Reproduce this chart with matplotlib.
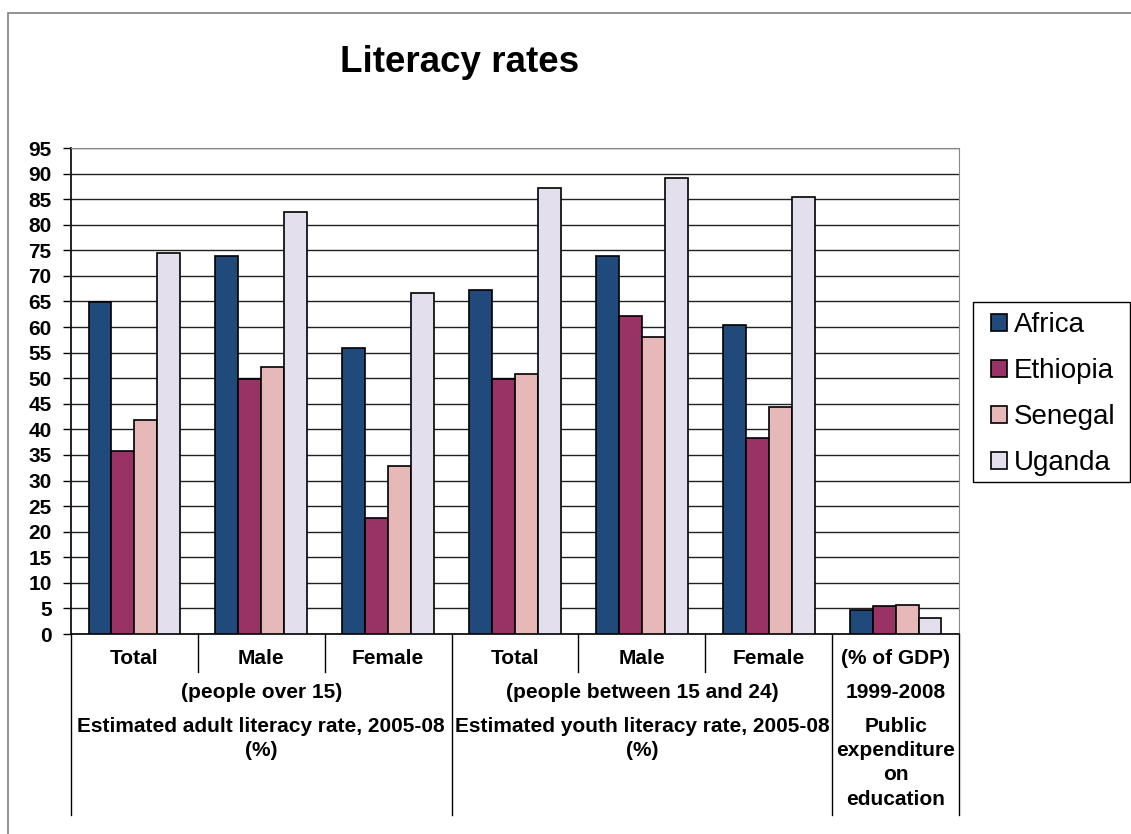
import numpy as np
import matplotlib.pyplot as plt
from matplotlib.patches import Rectangle

plt.rcParams['font.family'] = ['Liberation Sans', 'DejaVu Sans']

countries = ['Africa', 'Ethiopia', 'Senegal', 'Uganda']
colors = ['#214A7C', '#993366', '#E6B9B8', '#E4DFEC']

sub_labels = ['Total', 'Male', 'Female', 'Total', 'Male', 'Female', '(% of GDP)']
africa = [64.8, 73.9, 55.9, 67.2, 73.9, 60.4, 4.6]
ethiopia = [35.8, 49.9, 22.7, 49.9, 62.2, 38.4, 5.5]
senegal = [41.8, 52.2, 32.9, 50.8, 58.1, 44.4, 5.7]
uganda = [74.5, 82.4, 66.7, 87.2, 89.1, 85.4, 3.1]

group_notes = ['(people over 15)', '(people between 15 and 24)', '1999-2008']
group_titles = ['Estimated adult literacy rate, 2005-08\n(%)',
                'Estimated youth literacy rate, 2005-08\n(%)',
                'Public\nexpenditure\non\neducation']
group_spans = [(0, 3), (3, 6), (6, 7)]

W, H = 1131, 834
fig = plt.figure(figsize=(W / 100, H / 100), dpi=100)
ax = fig.add_axes([71 / W, 1 - 634 / H, 888 / W, 486 / H])

# outer chart frame
fig.patches.append(Rectangle((8 / W, -0.1), 1.2, 1 - 13 / H + 0.1,
                             transform=fig.transFigure, fill=False,
                             edgecolor='#7f7f7f', linewidth=1.2, zorder=-2))

x = np.arange(len(sub_labels))
w = 0.181
series = [africa, ethiopia, senegal, uganda]
for i, (name, vals) in enumerate(zip(countries, series)):
    ax.bar(x + (i - 1.5) * w, vals, width=w, color=colors[i],
           edgecolor='black', linewidth=1.2, label=name, zorder=3)

ax.set_xlim(-0.5, 6.5)
ax.set_ylim(0, 95)
ax.set_yticks(np.arange(0, 96, 5))
ax.tick_params(axis='y', labelsize=15, length=6, width=1, direction='out', pad=8)
for lab in ax.get_yticklabels():
    lab.set_fontweight('bold')
ax.set_xticks([])
ax.grid(axis='y', color='#222222', linewidth=1, zorder=0)
ax.spines['left'].set_color('black')
ax.spines['bottom'].set_color('black')
ax.spines['top'].set_color('#888888')
ax.spines['right'].set_color('#888888')
ax.spines['left'].set_linewidth(1.2)
ax.spines['bottom'].set_linewidth(1.2)

# category axis below the plot
trans = ax.get_xaxis_transform()
px = 1 / 486.0


def ypos(py):
    return (634 - py) * px


for i, lab in enumerate(sub_labels):
    ax.text(i, ypos(658), lab, transform=trans, ha='center', va='center',
            fontsize=15, fontweight='bold')

for b in [0.5, 1.5, 3.5, 4.5]:
    ax.plot([b, b], [0, ypos(672)], transform=trans, color='black',
            linewidth=1, clip_on=False)
for b in [-0.5, 2.5, 5.5, 6.5]:
    ax.plot([b, b], [0, ypos(815)], transform=trans, color='black',
            linewidth=1, clip_on=False)

for (a, b), note, title in zip(group_spans, group_notes, group_titles):
    cx = (a + b - 1) / 2
    ax.text(cx, ypos(693), note, transform=trans, ha='center', va='center',
            fontsize=15, fontweight='bold')
    ax.text(cx, ypos(717), title, transform=trans, ha='center', va='top',
            fontsize=15, fontweight='bold', linespacing=1.35)

fig.text(460 / W, 1 - 62 / H, 'Literacy rates', ha='center', va='center',
         fontsize=26.5, fontweight='bold')

# legend box, drawn separately so the inner padding can be set freely
fig.patches.append(Rectangle((973 / W, 1 - 482 / H), (1130 - 973) / W, 180 / H,
                             transform=fig.transFigure, facecolor='white',
                             edgecolor='black', linewidth=1, zorder=-1))
leg = ax.legend(loc='upper left', bbox_to_anchor=(983 / W, 1 - 304 / H),
                bbox_transform=fig.transFigure, fontsize=20, frameon=False,
                handlelength=0.55, handleheight=0.55, handletextpad=0.25,
                labelspacing=0.72, borderpad=0.3, borderaxespad=0)

fig.savefig('out.png', dpi=100)
